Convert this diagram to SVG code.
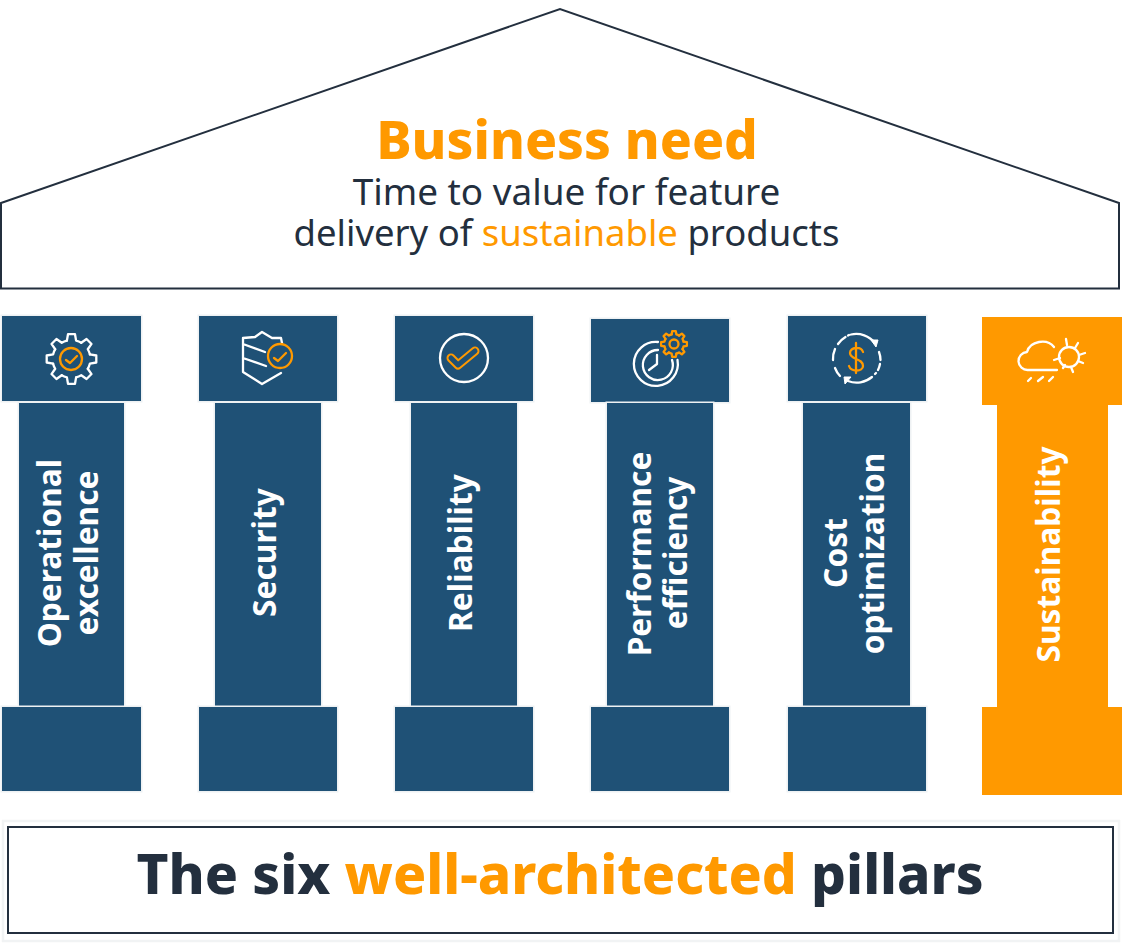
<svg xmlns="http://www.w3.org/2000/svg" width="1122" height="946" viewBox="0 0 1122 946">
<style>
text{font-family:"Noto Sans","Open Sans",sans-serif}
.b{fill:#1f5176;stroke:#eef1f3;stroke-width:3;paint-order:stroke}
.o{fill:#f90}
.d{fill:#232f3e}
.pl{fill:#fff;font-size:31.700px;font-weight:700;text-anchor:middle}
.w{fill:none;stroke:#fff;stroke-width:2.300;stroke-linecap:round;stroke-linejoin:round}
.y{fill:none;stroke:#f90;stroke-width:2.300;stroke-linecap:round;stroke-linejoin:round}
</style>
<defs>
<path id="tooth" d="M18.400-4.600L24.800-3.500V3.500L18.400 4.600A19 19 0 0 1 16.300 9.800"/>
<g id="gear">
<use href="#tooth" transform="rotate(-90)"/><use href="#tooth" transform="rotate(-45)"/><use href="#tooth"/><use href="#tooth" transform="rotate(45)"/><use href="#tooth" transform="rotate(90)"/><use href="#tooth" transform="rotate(135)"/><use href="#tooth" transform="rotate(180)"/><use href="#tooth" transform="rotate(225)"/>
</g>
</defs>
<rect width="1122" height="946" fill="#fff"/>
<g id="roof">
<path d="M1 203L560 9L1119 203V288.500H1Z" fill="#fff" stroke="#232f3e" stroke-width="2"/>
<text x="567" y="159" class="o" font-size="53" font-weight="800" text-anchor="middle">Business need</text>
<text x="566.500" y="205" class="d" font-size="36.900" text-anchor="middle">Time to value for feature</text>
<text x="566.500" y="246" class="d" font-size="36.500" text-anchor="middle">delivery of <tspan class="o">sustainable</tspan> products</text>
</g>
<g id="pillar-operational">
<rect class="b" x="2" y="316" width="139" height="85"/><rect class="b" x="19" y="403" width="105" height="303"/><rect class="b" x="2" y="707" width="139" height="84"/>
<text class="pl" transform="translate(61 553) rotate(-90)">Operational</text>
<text class="pl" transform="translate(98 553) rotate(-90)">excellence</text>
<use href="#gear" class="w" transform="translate(71.500 359)"/>
<circle class="y" cx="71" cy="359" r="11"/>
<path class="y" d="M66 360L70 363L77 356"/>
</g>
<g id="pillar-security">
<rect class="b" x="199" y="316" width="138" height="85"/><rect class="b" x="215" y="403" width="106" height="303"/><rect class="b" x="199" y="707" width="138" height="84"/>
<text class="pl" transform="translate(276 552.500) rotate(-90)">Security</text>
<path class="w" d="M272 338L262 332L255 337L243 338V372L262 384L281 373M243 344L265 352M243 358L266 366M272 338H281L282 343"/>
<circle class="y" cx="280" cy="356" r="12"/>
<path class="y" d="M274 358L278 361L286 353"/>
</g>
<g id="pillar-reliability">
<rect class="b" x="395" y="316" width="138" height="85"/><rect class="b" x="411" y="403" width="106" height="303"/><rect class="b" x="395" y="707" width="138" height="84"/>
<text class="pl" transform="translate(472 553) rotate(-90)">Reliability</text>
<circle class="w" cx="464" cy="358" r="24"/>
<path d="M451 358L458 365L475 351" fill="none" stroke="#f90" stroke-width="9" stroke-linecap="round" stroke-linejoin="round"/>
<path d="M451 358L458 365L475 351" fill="none" stroke="#1f5176" stroke-width="5" stroke-linecap="round" stroke-linejoin="round"/>
</g>
<g id="pillar-performance">
<rect class="b" x="591" y="319" width="138" height="83"/><rect class="b" x="607" y="403" width="106" height="303"/><rect class="b" x="591" y="707" width="138" height="84"/>
<text class="pl" transform="translate(651 554) rotate(-90)">Performance</text>
<text class="pl" transform="translate(687 553) rotate(-90)">efficiency</text>
<path class="w" d="M658 342A22 22 0 1 0 677.500 360M658 350A15 15 0 1 0 672 360M657 355V364L649 370"/>
<circle class="y" cx="674" cy="344" r="4.500"/>
<use href="#gear" class="y" style="stroke-width:4.400" transform="translate(674 344) scale(.52)"/>
</g>
<g id="pillar-cost">
<rect class="b" x="788" y="316" width="138" height="85"/><rect class="b" x="803" y="403" width="107" height="303"/><rect class="b" x="788" y="707" width="138" height="84"/>
<text class="pl" transform="translate(847 553) rotate(-90)">Cost</text>
<text class="pl" transform="translate(884 553.500) rotate(-90)">optimization</text>
<path class="w" d="M851 334.500A24 24 0 0 1 875 343M879 352A24 24 0 0 1 880.500 360M880 364A24 24 0 0 1 878 370M876 373L875 374M872 377A24 24 0 0 1 848 381M840 376A24 24 0 0 1 835 368M833 360A24 24 0 0 1 835 349M838 344A24 24 0 0 1 845.500 337M848 335.500L849 335"/>
<path d="M871 340L878 340L876 347Z" fill="#fff" stroke="#fff" stroke-linejoin="round"/><path d="M851 377L844 377L845 384Z" fill="#fff" stroke="#fff" stroke-linejoin="round"/>
<path class="y" d="M863 352C861 346 850 347 850 353C850 360 863 358 863 366C863 372 851 372 849 366M856 343V373"/>
</g>
<g id="pillar-sustainability">
<path class="o" d="M982 317H1122V405H1108V707H1122V795H982V707H997V405H982Z"/>
<text class="pl" transform="translate(1060 554.500) rotate(-90)">Sustainability</text>
<path class="w" d="M1057 370H1028A9 9 0 0 1 1027 352C1030 341 1047 338 1054 347"/>
<path class="w" d="M1028 381L1031 378M1038 381L1043 377M1049 381L1053 377"/>
<circle class="w" cx="1069" cy="357" r="10"/>
<path class="w" d="M1066 339L1067 345M1078 343L1075 348M1085 353L1079 355M1083 363L1078 361M1073 372L1071 367M1063 368L1065 365M1054 360L1060 358"/>
</g>
<g id="banner">
<rect x="8" y="827" width="1105" height="106" fill="#fff" stroke="#232f3e" stroke-width="2"/>
<rect x="3" y="821" width="1116" height="120" fill="none" stroke="#f1f3f4" stroke-width="2.500"/>
<text x="560" y="894" class="d" font-size="54.900" font-weight="800" text-anchor="middle">The six <tspan class="o">well-architected</tspan> pillars</text>
</g>
<g id="connectors"></g>
</svg>
